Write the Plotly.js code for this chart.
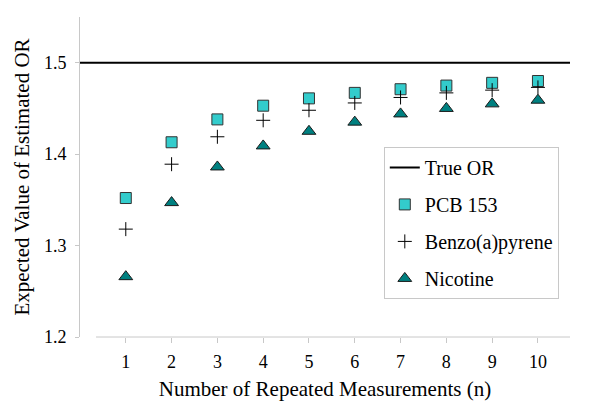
<!DOCTYPE html>
<html>
<head>
<meta charset="utf-8">
<script src="https://cdn.plot.ly/plotly-3.0.1.min.js"></script>
<style>html,body{margin:0;padding:0;background:#fff;}#chart{width:600px;height:410px;}</style>
</head>
<body>
<div id="chart"></div>
<script>
const nValues = [1, 2, 3, 4, 5, 6, 7, 8, 9, 10];
const pcb153 = [1.352, 1.413, 1.438, 1.453, 1.461, 1.467, 1.471, 1.475, 1.478, 1.480];
const benzoPyrene = [1.318, 1.389, 1.419, 1.437, 1.448, 1.456, 1.462, 1.467, 1.470, 1.473];
const nicotine = [1.266, 1.347, 1.386, 1.409, 1.425, 1.435, 1.444, 1.450, 1.455, 1.459];
const trueOR = 1.5;
const xRange = [0, 10.7];
const yRange = [1.2, 1.55];
const yTicks = [1.2, 1.3, 1.4, 1.5];

const serif = "Times New Roman, Liberation Serif, DejaVu Serif, serif";

const traces = [
  {
    x: xRange, y: [trueOR, trueOR], name: 'True OR', mode: 'lines',
    line: {color: '#000', width: 2}, legendgroup: 'a', cliponaxis: false
  },
  {
    x: nValues, y: pcb153, name: 'PCB 153', mode: 'markers', legendgroup: 'b',
    marker: {symbol: 'square', size: 11, color: '#33CCCC', line: {color: '#333', width: 1}}
  },
  {
    x: nValues, y: benzoPyrene, name: 'Benzo(a)pyrene', mode: 'markers', legendgroup: 'c',
    marker: {symbol: 'cross-thin', size: 10, color: '#000', line: {color: '#000', width: 1}}
  },
  {
    x: nValues, y: nicotine, name: 'Nicotine', mode: 'markers', legendgroup: 'd',
    marker: {symbol: 'triangle-up', size: 12, color: '#008080', line: {color: '#1a1a1a', width: 1}}
  }
];

const layout = {
  width: 600, height: 410,
  margin: {l: 80, r: 30, t: 17, b: 73},
  paper_bgcolor: '#fff', plot_bgcolor: '#fff',
  font: {family: serif, size: 18, color: '#000'},
  showlegend: true,
  legend: {
    x: 0.62, y: 0.594, xanchor: 'left', yanchor: 'top',
    bordercolor: '#c8c8c8', borderwidth: 1, bgcolor: '#fff',
    font: {family: serif, size: 20, color: '#000'},
    traceorder: 'grouped', tracegroupgap: 8
  },
  xaxis: {
    range: xRange, tickvals: nValues, ticktext: nValues.map(String),
    showgrid: false, zeroline: false, showline: false,
    ticks: 'outside', ticklen: 5, tickcolor: '#c8c8c8', tickwidth: 1,
    ticklabelstandoff: 3,
    tickfont: {family: serif, size: 18, color: '#000'},
    title: {text: 'Number of Repeated Measurements (n)', font: {family: serif, size: 21, color: '#000'}, standoff: 10}
  },
  yaxis: {
    range: yRange, tickvals: yTicks, ticktext: yTicks.map(v => v.toFixed(1)),
    showgrid: false, zeroline: false, showline: true, linecolor: '#c8c8c8', linewidth: 1,
    ticks: 'outside', ticklen: 4, tickcolor: '#c8c8c8', tickwidth: 1,
    ticklabelstandoff: 5,
    tickfont: {family: serif, size: 18, color: '#000'},
    title: {text: 'Expected Value of Estimated OR', font: {family: serif, size: 21, color: '#000'}, standoff: 8}
  },
  shapes: [
    {type: 'line', xref: 'x', yref: 'paper', x0: 0.35, x1: xRange[1], y0: 0, y1: 0,
     line: {color: '#c8c8c8', width: 1}}
  ]
};

Plotly.newPlot('chart', traces, layout, {displayModeBar: false, staticPlot: true});
</script>
</body>
</html>
